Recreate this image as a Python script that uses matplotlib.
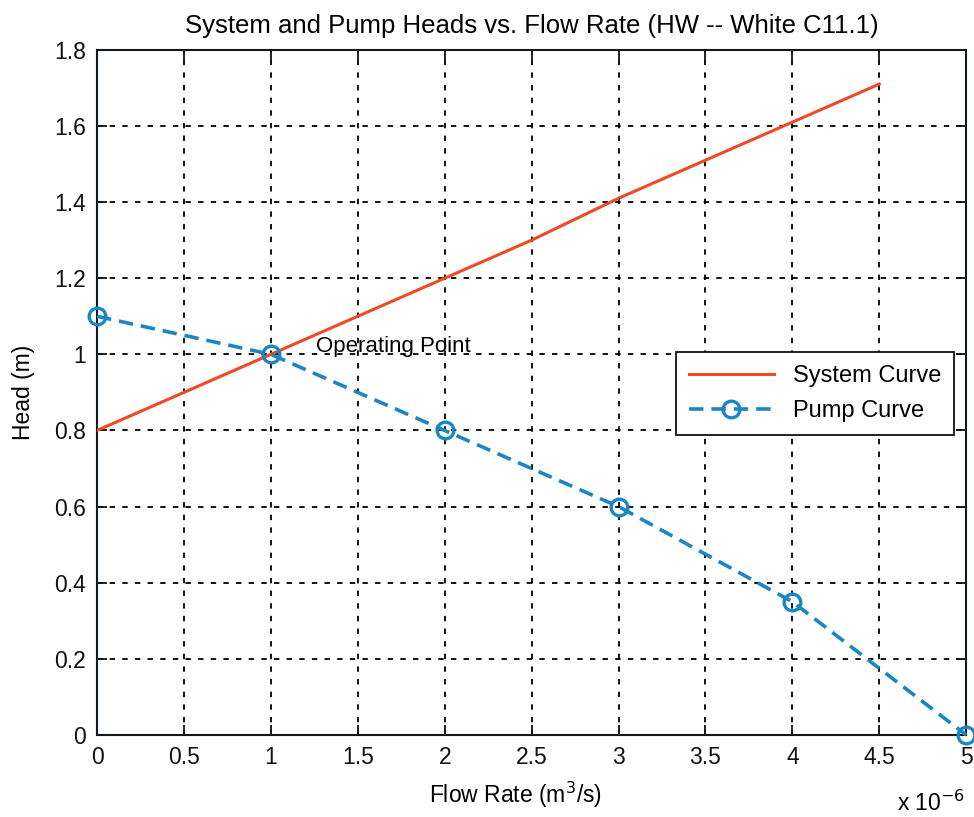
import matplotlib
matplotlib.use("Agg")
import matplotlib.pyplot as plt

# flow rate in units of 1e-6 m^3/s
q_system = [0, 0.5, 1, 1.5, 2, 2.5, 3, 3.5, 4, 4.5]
h_system = [0.80, 0.90, 1.00, 1.10, 1.20, 1.30, 1.41, 1.51, 1.61, 1.71]

q_pump = [0, 1, 2, 3, 4, 5]
h_pump = [1.10, 1.00, 0.80, 0.60, 0.35, 0.00]

xticks = [0, 0.5, 1, 1.5, 2, 2.5, 3, 3.5, 4, 4.5, 5]
yticks = [0, 0.2, 0.4, 0.6, 0.8, 1, 1.2, 1.4, 1.6, 1.8]

plt.rcParams['font.family'] = ['Liberation Sans', 'DejaVu Sans']

fig = plt.figure(figsize=(9.74, 8.17), dpi=100)
ax = fig.add_axes([0.0996, 0.1004, 0.8924, 0.8386])

red = '#EE4A24'
blue = '#1B86C6'

ax.plot(q_system, h_system, '-', color=red, lw=2.2, label='System Curve', zorder=3)
ax.plot(q_pump, h_pump, '--', color=blue, lw=2.6, marker='o', markersize=12,
        markerfacecolor='none', markeredgewidth=2.4, dashes=(4, 2.2),
        label='Pump Curve', zorder=4, clip_on=False)

ax.set_xlim(0, 5)
ax.set_ylim(0, 1.8)
ax.set_xticks(xticks)
ax.set_xticklabels(['0', '0.5', '1', '1.5', '2', '2.5', '3', '3.5', '4', '4.5', '5'])
ax.set_yticks(yticks)
ax.set_yticklabels(['0', '0.2', '0.4', '0.6', '0.8', '1', '1.2', '1.4', '1.6', '1.8'])
ax.tick_params(direction='in', top=True, right=True, length=7, width=1.3,
               labelsize=16.5, pad=8, colors='#111111')
ax.grid(True, color='black', linestyle=(0, (3, 4)), linewidth=1.3)
for s in ax.spines.values():
    s.set_linewidth(1.5)
    s.set_color('#111820')

ax.text(1.26, 1.02, 'Operating Point', fontsize=16, va='center', ha='left', zorder=5)

ax.set_title('System and Pump Heads vs. Flow Rate (HW -- White C11.1)', fontsize=18.5, pad=12)
ax.set_xlabel('Flow Rate (m$^3$/s)', fontsize=16.5)
ax.xaxis.set_label_coords(0.482, -0.066, transform=ax.transAxes)
ax.set_ylabel('Head (m)', fontsize=16.5, labelpad=14)
fig.text(0.921, 0.001, 'x 10$^{-6}$', fontsize=16.5, ha='left', va='bottom')

leg = ax.legend(loc='upper left', bbox_to_anchor=(0.666, 0.559), fontsize=17,
                frameon=True, fancybox=False, edgecolor='#111111', framealpha=1,
                handlelength=3.6, borderpad=0.55, labelspacing=0.55,
                borderaxespad=0, handletextpad=0.8)
leg.get_frame().set_linewidth(1.3)

fig.savefig('out.png', dpi=100)
